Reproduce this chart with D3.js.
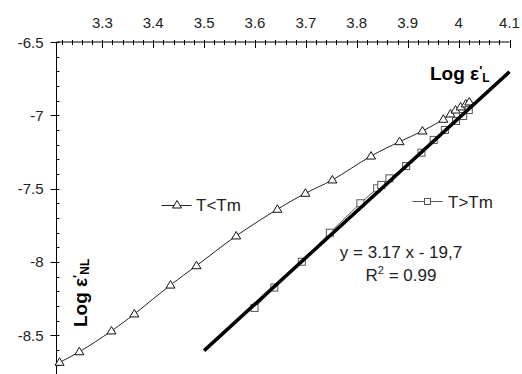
<!DOCTYPE html>
<html><head><meta charset="utf-8">
<script src="https://cdn.jsdelivr.net/npm/d3@7"></script>
<style>
html,body{margin:0;padding:0;background:#fff;}
svg{display:block;font-family:"Liberation Sans",Arial,sans-serif;}
</style></head>
<body><svg id="c" width="522" height="374"></svg>
<script>
// ---- data ----
const xTickValues = [3.3, 3.4, 3.5, 3.6, 3.7, 3.8, 3.9, 4.0, 4.1];
const xTickLabels = ["3.3", "3.4", "3.5", "3.6", "3.7", "3.8", "3.9", "4", "4.1"];
const yTickValues = [-6.5, -7, -7.5, -8, -8.5];
const yTickLabels = ["-6.5", "-7", "-7.5", "-8", "-8.5"];

const lowName = "T<Tm";
const lowX = [3.216, 3.255, 3.318, 3.363, 3.434, 3.485, 3.563, 3.644, 3.699, 3.752, 3.828, 3.884, 3.929, 3.970, 3.984, 3.994, 4.004, 4.014, 4.021];
const lowY = [-8.685, -8.613, -8.471, -8.355, -8.158, -8.026, -7.823, -7.641, -7.532, -7.441, -7.278, -7.180, -7.107, -7.027, -6.991, -6.964, -6.943, -6.923, -6.909];

const highName = "T>Tm";
const highX = [3.599, 3.638, 3.692, 3.747, 3.807, 3.840, 3.848, 3.864, 3.897, 3.927, 3.951, 3.973, 3.995, 4.009, 4.020];
const highY = [-8.314, -8.175, -7.999, -7.801, -7.600, -7.498, -7.475, -7.430, -7.346, -7.255, -7.168, -7.100, -7.039, -7.005, -6.964];

const trendSlope = 3.17, trendIntercept = -19.7;
const trendRange = [3.5, 4.1];
const equationText = "y = 3.17 x - 19,7";
const r2Value = "0.99";

// ---- scales ----
const svg = d3.select("#c");
const x = d3.scaleLinear().domain([3.21, 4.1]).range([56.5, 509.5]);
const y = d3.scaleLinear().domain([-9, -6.5]).range([408.5, 42]);
const textCol = "#222";

// top x axis
const gx = svg.append("g");
gx.append("line").attr("x1", x(3.21)).attr("x2", x(4.1)).attr("y1", y(-6.5)).attr("y2", y(-6.5)).attr("stroke", "#000");
const xMinor = d3.range(3.22, 4.1, 0.02).filter(v => Math.abs(v * 10 - Math.round(v * 10)) > 1e-6);
gx.selectAll(".mi").data(xMinor).enter().append("line")
  .attr("x1", d => Math.round(x(d)) + 0.5).attr("x2", d => Math.round(x(d)) + 0.5)
  .attr("y1", y(-6.5) - 2).attr("y2", y(-6.5) + 3).attr("stroke", "#000");
gx.selectAll(".ma").data(xTickValues).enter().append("line")
  .attr("x1", d => Math.round(x(d)) + 0.5).attr("x2", d => Math.round(x(d)) + 0.5)
  .attr("y1", y(-6.5) - 2).attr("y2", y(-6.5) + 6).attr("stroke", "#000");
gx.selectAll("text").data(xTickValues).enter().append("text")
  .attr("x", d => x(d)).attr("y", 28).attr("text-anchor", "middle")
  .attr("font-size", 15).attr("fill", textCol).text((d, i) => xTickLabels[i]);

// left y axis
const gy = svg.append("g");
gy.append("line").attr("x1", x(3.21)).attr("x2", x(3.21)).attr("y1", y(-6.5)).attr("y2", 374).attr("stroke", "#000");
const yMinor = d3.range(-6.6, -9.0, -0.1).filter(v => Math.abs(v * 2 - Math.round(v * 2)) > 1e-6);
gy.selectAll(".mi").data(yMinor).enter().append("line")
  .attr("x1", x(3.21)).attr("x2", x(3.21) + 3)
  .attr("y1", d => Math.round(y(d)) + 0.5).attr("y2", d => Math.round(y(d)) + 0.5).attr("stroke", "#000");
gy.selectAll(".ma").data(yTickValues).enter().append("line")
  .attr("x1", x(3.21) - 6).attr("x2", x(3.21) + 3)
  .attr("y1", d => Math.round(y(d)) + 0.5).attr("y2", d => Math.round(y(d)) + 0.5).attr("stroke", "#000");
gy.selectAll("text").data(yTickValues).enter().append("text")
  .attr("x", 43.5).attr("y", d => y(d) + 5.5).attr("text-anchor", "end")
  .attr("font-size", 15).attr("fill", textCol).text((d, i) => yTickLabels[i]);

// ---- series ----
const lowPts = lowX.map((v, i) => [v, lowY[i]]);
const highPts = highX.map((v, i) => [v, highY[i]]);
const smooth = d3.line().x(d => x(d[0])).y(d => y(d[1])).curve(d3.curveCatmullRom.alpha(0.5));
const straight = d3.line().x(d => x(d[0])).y(d => y(d[1]));

svg.append("path").attr("d", smooth(lowPts)).attr("fill", "none").attr("stroke", "#222").attr("stroke-width", 1);
svg.append("path").attr("d", straight(highPts)).attr("fill", "none").attr("stroke", "#555").attr("stroke-width", 1);

const tri = "M0,-4.5L4.5,3L-4.5,3Z";
svg.selectAll(".tri").data(lowPts).enter().append("path")
  .attr("d", tri).attr("transform", d => `translate(${x(d[0])},${y(d[1])})`)
  .attr("fill", "#fff").attr("stroke", "#111").attr("stroke-width", 1);
svg.selectAll(".sq").data(highPts).enter().append("rect")
  .attr("x", d => x(d[0]) - 3.5).attr("y", d => y(d[1]) - 3.5).attr("width", 7).attr("height", 7)
  .attr("fill", "#fff").attr("stroke", "#555").attr("stroke-width", 1);

// trendline
svg.append("line")
  .attr("x1", x(trendRange[0])).attr("y1", y(trendSlope * trendRange[0] + trendIntercept))
  .attr("x2", x(trendRange[1])).attr("y2", y(trendSlope * trendRange[1] + trendIntercept))
  .attr("stroke", "#000").attr("stroke-width", 3.5);

// ---- legends / labels ----
// T<Tm
svg.append("line").attr("x1", 161.5).attr("x2", 191.5).attr("y1", 205.5).attr("y2", 205.5).attr("stroke", "#222");
svg.append("path").attr("d", tri).attr("transform", "translate(177,205)").attr("fill", "#fff").attr("stroke", "#111");
svg.append("text").attr("x", 196).attr("y", 211).attr("font-size", 17).attr("fill", textCol).text(lowName);
// T>Tm
svg.append("line").attr("x1", 412.5).attr("x2", 442.5).attr("y1", 201.5).attr("y2", 201.5).attr("stroke", "#555");
svg.append("rect").attr("x", 424.5).attr("y", 198.5).attr("width", 6).attr("height", 6).attr("fill", "#fff").attr("stroke", "#555");
svg.append("text").attr("x", 448).attr("y", 208).attr("font-size", 17).attr("fill", textCol).text(highName);

// equation
svg.append("text").attr("x", 401).attr("y", 258).attr("text-anchor", "middle")
  .attr("font-size", 17).attr("fill", textCol).text(equationText);
const r2 = svg.append("text").attr("x", 401).attr("y", 281).attr("text-anchor", "middle")
  .attr("font-size", 17).attr("fill", textCol);
r2.append("tspan").text("R");
r2.append("tspan").attr("font-size", 11).attr("dy", -7).text("2");
r2.append("tspan").attr("dy", 7).text(" = " + r2Value);

// axis titles
const tx = svg.append("text").attr("x", 430).attr("y", 80).attr("font-size", 19)
  .attr("font-weight", "bold").attr("fill", "#000");
tx.append("tspan").text("Log ε");
tx.append("tspan").attr("font-size", 13).attr("dy", -5).text("'");
tx.append("tspan").attr("font-size", 12).attr("dy", 7).text("L");

const ty = svg.append("text").attr("transform", "translate(87,327) rotate(-90)")
  .attr("font-size", 19).attr("font-weight", "bold").attr("fill", "#000");
ty.append("tspan").text("Log ε");
ty.append("tspan").attr("font-size", 13).attr("dy", -5).text("'");
ty.append("tspan").attr("font-size", 12).attr("dy", 7).text("NL");
</script></body></html>
